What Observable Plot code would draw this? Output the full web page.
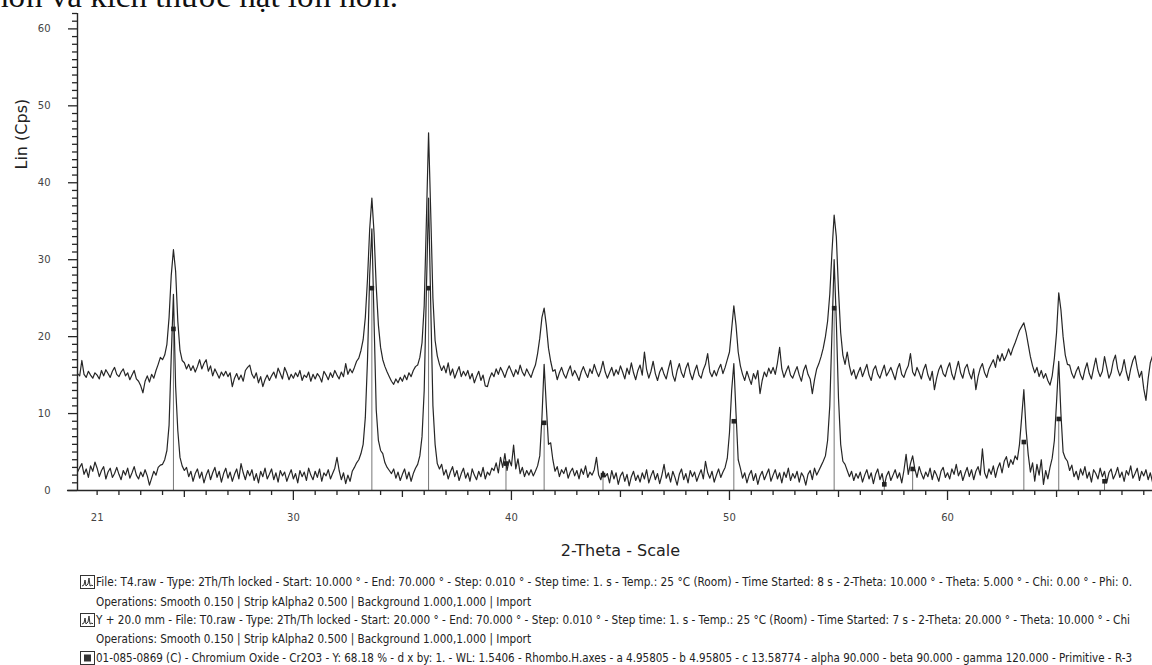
<!DOCTYPE html>
<html><head><meta charset="utf-8">
<script src="https://cdn.jsdelivr.net/npm/d3@7"></script>
<script src="https://cdn.jsdelivr.net/npm/@observablehq/plot@0.6"></script>
<style>
html,body{margin:0;padding:0;background:#fff;}
#wrap{position:relative;width:1152px;height:665px;overflow:hidden;background:#fff;}
#chart{position:absolute;left:0;top:0;}
#toptext{position:absolute;left:0;top:0;}
.leg{position:absolute;left:96px;white-space:nowrap;font-family:"DejaVu Sans",sans-serif;font-size:12px;color:#222;transform-origin:0 50%;line-height:14px;}
.icon{position:absolute;left:80px;}
</style></head>
<body><div id="wrap">
<div id="chart"></div>
<svg id="toptext" width="1152" height="12"><text x="-8" y="7" font-family="Liberation Serif, DejaVu Serif, serif" font-size="32" fill="#111" textLength="406" lengthAdjust="spacingAndGlyphs">hơn và kích thước hạt lớn hơn.</text></svg>
</div>
<script>
// ---- data ----
const angleStart = 20.0, angleStep = 0.1;
// T4 (upper, offset) trace, 20.0 .. 69.6 deg, step 0.1
const t4 = [
14.4,15.2,14.9,16.9,15.1,14.7,15.5,15.0,14.6,15.3,
15.0,14.5,15.6,14.9,15.7,15.2,14.7,15.5,16.0,15.1,
14.8,15.4,15.8,14.9,15.3,14.4,15.0,15.6,14.5,14.2,
13.6,12.7,14.2,14.9,14.1,15.1,14.6,15.6,16.4,17.3,
17.0,17.6,19.0,22.5,28.0,31.3,28.5,22.0,18.2,16.9,
16.6,15.8,16.4,15.6,16.2,15.4,16.1,17.0,15.8,16.5,
17.0,15.5,16.2,14.9,15.8,15.2,14.6,15.4,14.9,15.5,
14.8,15.3,13.5,14.6,15.2,14.4,15.0,14.2,15.6,16.0,
16.3,15.1,14.6,15.3,14.0,14.8,13.5,14.4,15.0,14.3,
14.9,15.4,14.6,15.9,15.2,14.5,16.0,15.3,14.4,15.1,
14.6,15.3,14.8,15.6,14.3,15.0,14.7,15.4,14.2,15.1,
14.5,15.2,14.8,14.1,15.5,15.0,14.4,15.3,14.7,15.6,
15.0,14.5,15.4,14.8,16.5,15.1,15.8,15.3,16.0,16.8,
17.2,18.2,19.6,22.5,27.5,34.0,38.0,33.5,26.5,21.5,
18.6,17.0,16.1,15.4,14.8,14.2,13.8,14.5,14.0,14.7,
14.2,15.0,14.4,15.3,14.8,15.6,16.1,16.3,17.3,19.2,
24.0,35.0,46.5,36.0,25.0,19.5,17.5,16.4,15.6,16.2,
15.3,16.6,15.0,15.8,14.6,15.4,16.1,14.8,15.5,14.9,
15.6,14.5,15.2,14.0,14.8,15.5,14.3,15.0,13.6,13.5,
14.6,15.3,14.8,15.8,15.1,16.0,15.4,14.7,15.6,16.2,
15.5,14.8,15.7,15.1,16.3,15.4,14.9,15.8,15.2,14.7,
15.6,16.3,17.8,19.8,22.5,23.7,21.5,18.5,16.8,15.5,
15.7,14.4,15.3,16.0,15.1,14.6,15.5,16.2,14.9,15.6,
15.0,14.3,15.4,16.1,15.3,14.7,15.8,15.2,16.4,15.5,
14.8,15.6,16.8,15.4,14.6,15.3,16.0,14.9,15.7,15.1,
16.2,15.4,14.5,15.9,15.1,16.6,15.3,14.4,15.6,16.3,
15.0,18.0,15.7,14.6,15.5,16.8,15.2,14.3,15.4,16.0,
15.1,14.5,15.8,16.9,15.0,14.2,15.6,16.5,15.3,14.7,
15.9,16.6,15.2,14.4,15.5,16.3,15.0,14.6,15.7,16.4,
17.8,15.4,14.8,15.6,14.9,15.8,16.4,15.2,16.0,17.0,
18.0,21.0,24.0,21.5,18.0,16.2,15.1,14.3,15.5,14.6,
13.8,15.2,14.5,15.6,12.6,14.3,15.4,14.8,15.9,15.2,
16.0,15.1,16.6,18.6,15.8,14.7,15.5,16.2,15.0,14.6,
15.4,16.1,15.0,14.2,15.6,16.3,15.1,14.5,12.6,14.4,
15.8,16.5,17.4,18.5,20.0,22.0,25.5,31.0,35.8,33.0,
26.0,20.5,17.6,16.4,18.0,16.2,15.0,15.7,14.5,15.3,
16.0,14.8,15.6,16.4,15.0,14.3,15.7,16.2,15.1,14.6,
15.5,16.3,14.9,15.4,16.0,15.2,14.4,15.8,16.5,15.1,
14.7,15.6,16.2,17.8,15.4,14.9,16.0,15.3,14.5,15.7,
16.4,15.0,14.3,15.5,13.1,14.6,15.7,16.3,15.2,14.8,
15.9,16.6,15.1,14.4,15.7,16.8,15.3,14.6,15.9,16.4,
15.2,14.5,15.8,13.1,14.8,15.9,16.5,15.3,14.7,15.8,
16.4,17.0,16.0,17.6,16.8,17.8,16.9,17.5,18.4,17.6,
18.5,19.2,20.0,20.8,21.3,21.8,20.6,19.0,17.4,16.2,
15.3,16.0,14.8,15.6,14.6,15.2,14.3,13.7,14.9,17.2,
20.5,25.7,23.5,20.0,17.6,16.4,16.3,15.2,14.6,15.5,
16.1,15.0,14.4,15.7,16.6,15.2,14.5,15.9,17.2,15.6,
14.8,15.5,17.4,16.0,14.6,15.3,16.8,17.6,15.8,14.9,
15.6,17.0,15.4,14.3,15.8,16.9,17.5,15.9,14.7,15.5,
13.2,11.7,14.5,16.6,17.5,16.0,15.2
];
// T0 (lower) trace, 20.0 .. 69.6 deg, step 0.1
const t0 = [
1.3,2.4,3.0,3.5,2.1,2.8,1.7,3.2,2.5,3.7,
2.9,1.8,2.6,3.1,1.5,2.4,2.9,1.7,2.2,3.0,
2.1,1.4,2.6,2.0,2.9,1.6,2.3,3.1,2.0,1.5,
2.4,1.8,2.7,1.9,0.7,1.6,2.5,2.0,3.0,3.3,
3.4,4.0,5.2,8.5,17.5,25.5,13.5,7.8,4.3,3.2,
2.6,3.0,1.8,2.5,1.2,2.2,2.8,1.6,2.4,1.0,
2.0,2.7,1.4,2.3,3.0,1.7,2.5,1.1,2.2,2.9,
1.6,2.4,1.2,2.1,2.8,1.5,3.5,2.3,1.4,2.6,
1.9,2.7,1.3,2.2,1.0,2.5,1.8,2.9,1.5,2.1,
2.8,1.4,2.3,1.1,2.6,1.9,2.4,1.2,2.0,2.7,
1.5,2.2,1.0,2.6,1.8,2.4,1.3,2.9,2.0,1.4,
2.5,1.7,2.8,1.2,2.3,1.9,2.7,1.5,2.2,2.9,
4.3,2.6,1.4,2.3,0.9,2.0,1.2,2.5,3.0,3.6,
4.0,4.8,6.0,9.5,17.0,28.0,34.0,22.0,10.5,6.5,
5.2,4.8,3.6,3.0,2.6,2.2,2.8,1.6,2.4,1.3,
2.1,2.8,1.5,2.4,1.2,2.2,2.9,3.4,4.5,7.0,
13.0,26.0,38.0,24.0,11.0,6.0,3.5,2.8,3.4,2.0,
2.7,1.5,2.4,3.1,1.8,2.6,1.3,2.2,2.9,1.6,
2.3,1.2,2.8,2.0,1.4,2.5,1.8,3.0,1.5,2.4,
2.0,2.9,2.6,3.6,2.3,4.3,3.0,4.8,2.6,4.0,
3.2,5.9,2.8,4.1,2.2,3.0,1.8,2.6,2.0,2.7,
1.9,2.5,3.2,4.5,9.5,16.4,11.0,6.0,6.2,4.0,
2.5,3.1,1.8,2.7,2.2,3.0,1.6,2.4,2.9,1.9,
2.6,1.5,2.8,2.1,3.2,1.7,2.4,2.0,2.7,4.3,
2.0,1.4,2.5,1.8,2.2,1.0,2.6,1.5,2.3,0.8,
1.9,2.4,1.2,2.1,0.6,1.8,2.5,1.3,2.0,1.1,
2.3,1.5,2.7,1.0,1.9,2.6,1.4,2.2,0.9,2.0,
3.4,1.6,2.3,1.1,2.5,1.7,0.7,2.1,2.8,1.4,
2.2,1.0,2.6,1.8,2.4,1.2,2.0,2.7,1.5,3.8,
2.3,1.6,2.5,1.1,2.0,2.8,1.7,2.4,3.0,4.2,
7.5,13.0,16.5,10.0,4.0,2.9,1.6,2.3,1.0,2.0,
2.6,1.3,2.2,0.8,1.9,2.5,1.4,2.1,2.8,1.2,
2.0,2.7,1.5,2.3,1.0,2.4,1.7,2.9,1.3,2.2,
1.6,2.5,1.1,2.3,1.8,0.7,2.1,2.6,1.4,2.9,
2.0,2.6,3.2,3.8,4.5,6.5,11.0,20.5,30.0,22.0,
12.0,6.0,3.8,3.4,2.6,1.8,2.5,1.3,2.2,1.6,
2.4,1.1,2.0,2.7,1.5,2.3,0.9,2.1,2.8,1.4,
2.2,0.6,1.9,2.5,1.3,2.0,2.7,1.6,2.3,1.0,
2.6,4.7,2.1,3.5,4.5,2.8,1.7,3.1,2.2,1.5,
2.4,1.8,2.9,1.4,2.6,2.0,1.2,2.5,3.0,1.7,
2.3,1.5,2.8,2.1,3.4,1.9,2.6,1.3,2.2,3.0,
1.8,2.7,1.4,2.5,3.1,2.0,5.4,2.3,1.6,2.8,
2.1,3.2,1.7,2.9,3.6,2.3,3.8,4.4,3.0,4.0,
3.4,4.5,4.0,6.0,9.5,13.1,8.0,4.7,2.4,3.6,
1.2,3.4,2.0,4.0,0.8,2.6,1.5,3.0,4.2,6.5,
11.5,16.8,10.0,5.0,4.2,3.8,2.6,3.3,1.8,2.5,
1.4,2.8,2.0,3.1,1.6,2.4,1.1,2.7,2.2,1.5,
2.9,1.8,2.5,1.0,2.3,2.8,1.5,2.1,3.0,1.7,
2.4,1.2,2.6,2.0,3.2,1.6,2.2,2.9,1.3,2.5,
1.9,2.7,1.4,2.3,1.1,2.0,2.6
];
// Cr2O3 reference pattern 01-085-0869 (stick positions and heights)
const refAngle = [24.5, 33.6, 36.2, 39.75, 41.5, 44.2, 50.2, 54.8, 57.1, 58.4, 63.5, 65.1, 67.2];
const refHeight = [21.0, 26.3, 26.3, 3.5, 8.8, 2.0, 9.0, 23.7, 0.8, 2.8, 6.3, 9.3, 1.2];
// axes
const xStart = 20.1, xEnd = 69.4, xAxisLeft = 19.64, yMax = 62;
const xTickLabels = [21, 30, 40, 50, 60];
const yTickLabels = [0, 10, 20, 30, 40, 50, 60];
const xLabel = "2-Theta - Scale", yLabel = "Lin (Cps)";
const legendLines = [
  {icon: "scan", text: "File: T4.raw - Type: 2Th/Th locked - Start: 10.000 ° - End: 70.000 ° - Step: 0.010 ° - Step time: 1. s - Temp.: 25 °C (Room) - Time Started: 8 s - 2-Theta: 10.000 ° - Theta: 5.000 ° - Chi: 0.00 ° - Phi: 0."},
  {icon: null, text: "Operations: Smooth 0.150 | Strip kAlpha2 0.500 | Background 1.000,1.000 | Import"},
  {icon: "scan", text: "Y + 20.0 mm - File: T0.raw - Type: 2Th/Th locked - Start: 20.000 ° - End: 70.000 ° - Step: 0.010 ° - Step time: 1. s - Temp.: 25 °C (Room) - Time Started: 7 s - 2-Theta: 20.000 ° - Theta: 10.000 ° - Chi"},
  {icon: null, text: "Operations: Smooth 0.150 | Strip kAlpha2 0.500 | Background 1.000,1.000 | Import"},
  {icon: "ref", text: "01-085-0869 (C) - Chromium Oxide - Cr2O3 - Y: 68.18 % - d x by: 1. - WL: 1.5406 - Rhombo.H.axes - a 4.95805 - b 4.95805 - c 13.58774 - alpha 90.000 - beta 90.000 - gamma 120.000 - Primitive - R-3"}
];
const legendY = [582, 602, 620, 639, 658];
const legendWidth = [1036, 435, 1034, 435, 1036];

// ---- build ----
const rows = t4.map((v, i) => ({angle: +(angleStart + i * angleStep).toFixed(2), t4: v, t0: t0[i]}));
const ref = refAngle.map((a, i) => ({angle: a, h: refHeight[i]}));
const xMinor = d3.range(21, 70).filter(d => d % 5 !== 0);
const xMid = d3.range(25, 70, 10);
const xMajor = d3.range(30, 70, 10);
const yMinor = d3.range(0, 63).filter(d => d % 10 !== 0);
const yMajor = d3.range(0, 61, 10);
const ink = "#262626";

const chart = Plot.plot({
  width: 1152, height: 570,
  marginLeft: 77, marginRight: 0, marginTop: 13, marginBottom: 80,
  x: {domain: [xStart, xEnd], label: null},
  y: {domain: [0, yMax], label: null},
  style: {fontFamily: "DejaVu Sans, sans-serif", background: "transparent", color: ink, overflow: "visible"},
  marks: [
    Plot.ruleX(ref, {x: "angle", y1: 0, y2: "h", stroke: "#777", strokeWidth: 1}),
    Plot.lineY(rows, {x: "angle", y: "t0", stroke: ink, strokeWidth: 1.2, clip: true}),
    Plot.lineY(rows, {x: "angle", y: "t4", stroke: ink, strokeWidth: 1.2, clip: true}),
    Plot.dot(ref, {x: "angle", y: "h", symbol: "square", r: 2.6, fill: "#222", stroke: null}),
    Plot.ruleY([0], {x1: xAxisLeft, x2: xEnd, stroke: ink, strokeWidth: 1.6}),
    Plot.ruleX([xStart], {stroke: ink, strokeWidth: 1.4}),
    Plot.axisX({ticks: xMinor, tickSize: 5, tickFormat: () => "", label: null, strokeWidth: 1.3}),
    Plot.axisX({ticks: xMid, tickSize: 7, tickFormat: () => "", label: null, strokeWidth: 1.3}),
    Plot.axisX({ticks: xMajor, tickSize: 10, tickFormat: () => "", label: null, strokeWidth: 1.3}),
    Plot.axisX({ticks: xTickLabels, tickSize: 0, tickPadding: 23, tickFormat: d => String(d), label: null, fontSize: 10, fill: "#444"}),
    Plot.axisY({ticks: yMinor, tickSize: 5, tickFormat: () => "", label: null, strokeWidth: 1.3}),
    Plot.axisY({ticks: yMajor, tickSize: 9, tickFormat: () => "", label: null, strokeWidth: 1.3}),
    Plot.axisY({ticks: yTickLabels, tickSize: 0, tickPadding: 27, tickFormat: d => String(d), label: null, fontSize: 10, fill: "#444"}),
    Plot.text([yLabel], {frameAnchor: "top-left", rotate: -90, dx: -62, dy: 156, fontSize: 16, fill: "#222"}),
    Plot.text([xLabel], {frameAnchor: "bottom", dx: 5.5, dy: 65, fontSize: 16, fill: "#222"})
  ]
});
document.getElementById("chart").appendChild(chart);

// legend below the plot
const wrap = document.getElementById("wrap");
function iconSvg(kind) {
  const ns = "http://www.w3.org/2000/svg";
  const s = document.createElementNS(ns, "svg");
  s.setAttribute("width", 16); s.setAttribute("height", 14);
  const r = document.createElementNS(ns, "rect");
  r.setAttribute("x", 0.5); r.setAttribute("y", 0.5); r.setAttribute("width", 14); r.setAttribute("height", 13);
  r.setAttribute("fill", "#fff"); r.setAttribute("stroke", "#333");
  s.appendChild(r);
  if (kind === "scan") {
    const p = document.createElementNS(ns, "polyline");
    p.setAttribute("points", "2,11 4,10 5,5 6,11 8,9 9,3 10,11 12,10 13,11");
    p.setAttribute("fill", "none"); p.setAttribute("stroke", "#333"); p.setAttribute("stroke-width", 1);
    s.appendChild(p);
  } else {
    const q = document.createElementNS(ns, "rect");
    q.setAttribute("x", 4); q.setAttribute("y", 3.5); q.setAttribute("width", 7); q.setAttribute("height", 7);
    q.setAttribute("fill", "#333");
    s.appendChild(q);
  }
  return s;
}
legendLines.forEach((l, i) => {
  const d = document.createElement("div");
  d.className = "leg";
  d.textContent = l.text;
  d.style.top = (legendY[i] - 7) + "px";
  wrap.appendChild(d);
  const w = d.getBoundingClientRect().width;
  d.style.transform = `scaleX(${legendWidth[i] / w})`;
  if (l.icon) {
    const ic = document.createElement("div");
    ic.className = "icon";
    ic.style.top = (legendY[i] - 7) + "px";
    ic.appendChild(iconSvg(l.icon));
    wrap.appendChild(ic);
  }
});
</script>
</body></html>
